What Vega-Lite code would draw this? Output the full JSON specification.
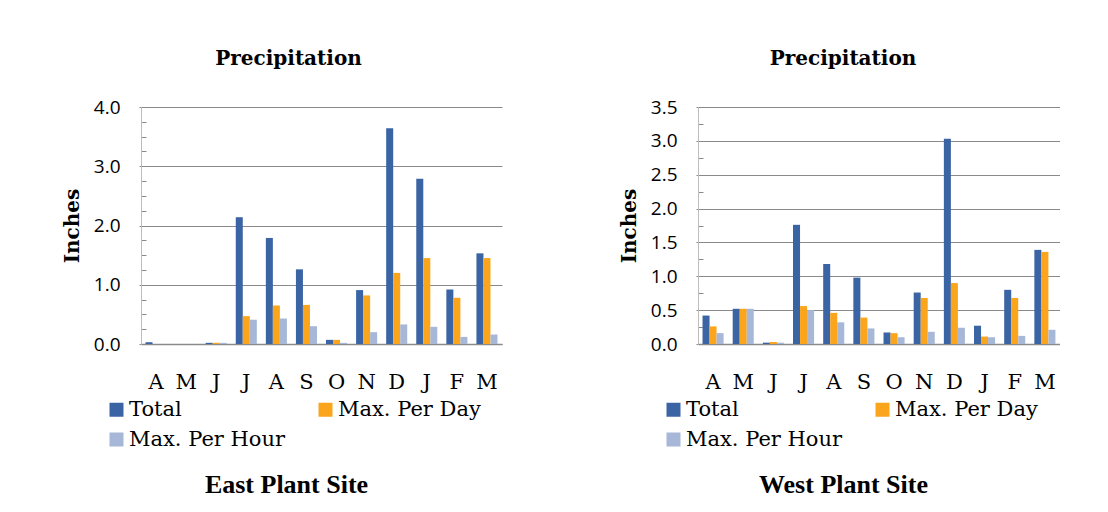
{
  "$schema": "https://vega.github.io/schema/vega-lite/v6.json",
  "background": "white",
  "padding": {"left": 62, "top": 49, "right": 0, "bottom": 0},
  "data": {
    "values": [
      {"site": "East", "mon": "Apr", "series": "Total", "inches": 0.03},
      {"site": "East", "mon": "Apr", "series": "Max. Per Day", "inches": 0},
      {"site": "East", "mon": "Apr", "series": "Max. Per Hour", "inches": 0},
      {"site": "East", "mon": "May", "series": "Total", "inches": 0},
      {"site": "East", "mon": "May", "series": "Max. Per Day", "inches": 0},
      {"site": "East", "mon": "May", "series": "Max. Per Hour", "inches": 0},
      {"site": "East", "mon": "Jun", "series": "Total", "inches": 0.02},
      {"site": "East", "mon": "Jun", "series": "Max. Per Day", "inches": 0.02},
      {"site": "East", "mon": "Jun", "series": "Max. Per Hour", "inches": 0.02},
      {"site": "East", "mon": "Jul", "series": "Total", "inches": 2.14},
      {"site": "East", "mon": "Jul", "series": "Max. Per Day", "inches": 0.47},
      {"site": "East", "mon": "Jul", "series": "Max. Per Hour", "inches": 0.41},
      {"site": "East", "mon": "Aug", "series": "Total", "inches": 1.79},
      {"site": "East", "mon": "Aug", "series": "Max. Per Day", "inches": 0.65},
      {"site": "East", "mon": "Aug", "series": "Max. Per Hour", "inches": 0.43},
      {"site": "East", "mon": "Sep", "series": "Total", "inches": 1.26},
      {"site": "East", "mon": "Sep", "series": "Max. Per Day", "inches": 0.66},
      {"site": "East", "mon": "Sep", "series": "Max. Per Hour", "inches": 0.30},
      {"site": "East", "mon": "Oct", "series": "Total", "inches": 0.07},
      {"site": "East", "mon": "Oct", "series": "Max. Per Day", "inches": 0.07},
      {"site": "East", "mon": "Oct", "series": "Max. Per Hour", "inches": 0.02},
      {"site": "East", "mon": "Nov", "series": "Total", "inches": 0.91},
      {"site": "East", "mon": "Nov", "series": "Max. Per Day", "inches": 0.82},
      {"site": "East", "mon": "Nov", "series": "Max. Per Hour", "inches": 0.20},
      {"site": "East", "mon": "Dec", "series": "Total", "inches": 3.64},
      {"site": "East", "mon": "Dec", "series": "Max. Per Day", "inches": 1.20},
      {"site": "East", "mon": "Dec", "series": "Max. Per Hour", "inches": 0.33},
      {"site": "East", "mon": "Jan", "series": "Total", "inches": 2.79},
      {"site": "East", "mon": "Jan", "series": "Max. Per Day", "inches": 1.45},
      {"site": "East", "mon": "Jan", "series": "Max. Per Hour", "inches": 0.29},
      {"site": "East", "mon": "Feb", "series": "Total", "inches": 0.92},
      {"site": "East", "mon": "Feb", "series": "Max. Per Day", "inches": 0.78},
      {"site": "East", "mon": "Feb", "series": "Max. Per Hour", "inches": 0.12},
      {"site": "East", "mon": "Mar", "series": "Total", "inches": 1.53},
      {"site": "East", "mon": "Mar", "series": "Max. Per Day", "inches": 1.45},
      {"site": "East", "mon": "Mar", "series": "Max. Per Hour", "inches": 0.16},
      {"site": "West", "mon": "Apr", "series": "Total", "inches": 0.42},
      {"site": "West", "mon": "Apr", "series": "Max. Per Day", "inches": 0.26},
      {"site": "West", "mon": "Apr", "series": "Max. Per Hour", "inches": 0.16},
      {"site": "West", "mon": "May", "series": "Total", "inches": 0.52},
      {"site": "West", "mon": "May", "series": "Max. Per Day", "inches": 0.52},
      {"site": "West", "mon": "May", "series": "Max. Per Hour", "inches": 0.52},
      {"site": "West", "mon": "Jun", "series": "Total", "inches": 0.02},
      {"site": "West", "mon": "Jun", "series": "Max. Per Day", "inches": 0.03},
      {"site": "West", "mon": "Jun", "series": "Max. Per Hour", "inches": 0.02},
      {"site": "West", "mon": "Jul", "series": "Total", "inches": 1.76},
      {"site": "West", "mon": "Jul", "series": "Max. Per Day", "inches": 0.56},
      {"site": "West", "mon": "Jul", "series": "Max. Per Hour", "inches": 0.50},
      {"site": "West", "mon": "Aug", "series": "Total", "inches": 1.18},
      {"site": "West", "mon": "Aug", "series": "Max. Per Day", "inches": 0.46},
      {"site": "West", "mon": "Aug", "series": "Max. Per Hour", "inches": 0.32},
      {"site": "West", "mon": "Sep", "series": "Total", "inches": 0.98},
      {"site": "West", "mon": "Sep", "series": "Max. Per Day", "inches": 0.39},
      {"site": "West", "mon": "Sep", "series": "Max. Per Hour", "inches": 0.23},
      {"site": "West", "mon": "Oct", "series": "Total", "inches": 0.17},
      {"site": "West", "mon": "Oct", "series": "Max. Per Day", "inches": 0.16},
      {"site": "West", "mon": "Oct", "series": "Max. Per Hour", "inches": 0.10},
      {"site": "West", "mon": "Nov", "series": "Total", "inches": 0.76},
      {"site": "West", "mon": "Nov", "series": "Max. Per Day", "inches": 0.68},
      {"site": "West", "mon": "Nov", "series": "Max. Per Hour", "inches": 0.18},
      {"site": "West", "mon": "Dec", "series": "Total", "inches": 3.03},
      {"site": "West", "mon": "Dec", "series": "Max. Per Day", "inches": 0.90},
      {"site": "West", "mon": "Dec", "series": "Max. Per Hour", "inches": 0.24},
      {"site": "West", "mon": "Jan", "series": "Total", "inches": 0.27},
      {"site": "West", "mon": "Jan", "series": "Max. Per Day", "inches": 0.11},
      {"site": "West", "mon": "Jan", "series": "Max. Per Hour", "inches": 0.10},
      {"site": "West", "mon": "Feb", "series": "Total", "inches": 0.80},
      {"site": "West", "mon": "Feb", "series": "Max. Per Day", "inches": 0.68},
      {"site": "West", "mon": "Feb", "series": "Max. Per Hour", "inches": 0.12},
      {"site": "West", "mon": "Mar", "series": "Total", "inches": 1.39},
      {"site": "West", "mon": "Mar", "series": "Max. Per Day", "inches": 1.36},
      {"site": "West", "mon": "Mar", "series": "Max. Per Hour", "inches": 0.21}
    ]
  },
  "hconcat": [
    {
      "width": 361,
      "height": 237,
      "title": {"text": "Precipitation", "dx": -33},
      "transform": [{"filter": "datum.site === 'East'"}],
      "mark": {"type": "bar"},
      "encoding": {
        "x": {
          "field": "mon", "type": "ordinal",
          "sort": ["Apr", "May", "Jun", "Jul", "Aug", "Sep", "Oct", "Nov", "Dec", "Jan", "Feb", "Mar"],
          "scale": {"paddingInner": 0.3, "paddingOuter": 0.15},
          "axis": {"title": "East Plant Site", "titleX": 145, "titleAlign": "center", "labelExpr": "substring(datum.label, 0, 1)"}
        },
        "xOffset": {"field": "series", "type": "nominal", "sort": ["Total", "Max. Per Day", "Max. Per Hour"]},
        "y": {
          "field": "inches", "type": "quantitative",
          "scale": {"domain": [0, 4]},
          "axis": {
            "title": "Inches",
            "values": [0, 0.25, 0.5, 0.75, 1, 1.25, 1.5, 1.75, 2, 2.25, 2.5, 2.75, 3, 3.25, 3.5, 3.75, 4],
            "labelExpr": "datum.value % 1 === 0 ? format(datum.value, '.1f') : ''",
            "gridOpacity": {"condition": {"test": "datum.value % 1 === 0", "value": 1}, "value": 0},
            "tickSize": {"condition": {"test": "datum.value % 1 === 0", "value": 2}, "value": -5}
          }
        },
        "color": {
          "field": "series", "type": "nominal",
          "sort": ["Total", "Max. Per Day", "Max. Per Hour"],
          "scale": {"domain": ["Total", "Max. Per Day", "Max. Per Hour"], "range": ["#3A64A3", "#FBA51C", "#A7B7D7"]},
          "legend": {"legendX": -35, "legendY": 292, "values": ["Total", "Max. Per Hour", "Max. Per Day"]}
        }
      }
    },
    {
      "width": 362,
      "height": 237,
      "title": {"text": "Precipitation", "dx": -36},
      "transform": [{"filter": "datum.site === 'West'"}],
      "mark": {"type": "bar"},
      "encoding": {
        "x": {
          "field": "mon", "type": "ordinal",
          "sort": ["Apr", "May", "Jun", "Jul", "Aug", "Sep", "Oct", "Nov", "Dec", "Jan", "Feb", "Mar"],
          "scale": {"paddingInner": 0.3, "paddingOuter": 0.15},
          "axis": {"title": "West Plant Site", "titleX": 145, "titleAlign": "center", "labelExpr": "substring(datum.label, 0, 1)"}
        },
        "xOffset": {"field": "series", "type": "nominal", "sort": ["Total", "Max. Per Day", "Max. Per Hour"]},
        "y": {
          "field": "inches", "type": "quantitative",
          "scale": {"domain": [0, 3.5]},
          "axis": {
            "title": "Inches",
            "values": [0, 0.25, 0.5, 0.75, 1, 1.25, 1.5, 1.75, 2, 2.25, 2.5, 2.75, 3, 3.25, 3.5],
            "labelExpr": "datum.value % 0.5 === 0 ? format(datum.value, '.1f') : ''",
            "gridOpacity": {"condition": {"test": "datum.value % 0.5 === 0", "value": 1}, "value": 0},
            "tickSize": {"condition": {"test": "datum.value % 0.5 === 0", "value": 2}, "value": -5}
          }
        },
        "color": {
          "field": "series", "type": "nominal",
          "sort": ["Total", "Max. Per Day", "Max. Per Hour"],
          "scale": {"domain": ["Total", "Max. Per Day", "Max. Per Hour"], "range": ["#3A64A3", "#FBA51C", "#A7B7D7"]},
          "legend": {"legendX": -35, "legendY": 292, "values": ["Total", "Max. Per Hour", "Max. Per Day"]}
        }
      }
    }
  ],
  "spacing": 117,
  "resolve": {"scale": {"color": "independent", "y": "independent", "x": "independent"}, "legend": {"color": "independent"}},
  "config": {
    "view": {"stroke": null},
    "title": {"font": "DejaVu Serif", "fontSize": 20, "fontWeight": "bold", "color": "#000000", "anchor": "middle", "offset": 29},
    "axisX": {
      "domainColor": "#8a8a8a", "domainWidth": 1.5, "ticks": false, "tickSize": 0,
      "labelFont": "DejaVu Serif", "labelFontSize": 21, "labelColor": "#000000", "labelAngle": 0, "labelPadding": 27,
      "titleFont": "Liberation Serif", "titleFontSize": 26, "titleFontWeight": "bold", "titleColor": "#000000", "titlePadding": 79
    },
    "axisY": {
      "domainColor": "#bdbdbd", "tickColor": "#8a8a8a", "gridColor": "#8a8a8a",
      "labelFont": "Open Sans", "labelFontSize": 19, "labelColor": "#000000", "labelPadding": 19,
      "titleFont": "DejaVu Serif", "titleFontSize": 20, "titleFontWeight": "bold", "titleColor": "#000000", "titlePadding": 11
    },
    "legend": {
      "orient": "none", "title": null, "columns": 2, "columnPadding": 29, "rowPadding": 8,
      "symbolType": "square", "symbolSize": 196, "symbolStrokeWidth": 0, "symbolOpacity": 1,
      "labelFont": "DejaVu Serif", "labelFontSize": 21, "labelColor": "#000000", "labelOffset": 2, "labelLimit": 300
    }
  }
}
